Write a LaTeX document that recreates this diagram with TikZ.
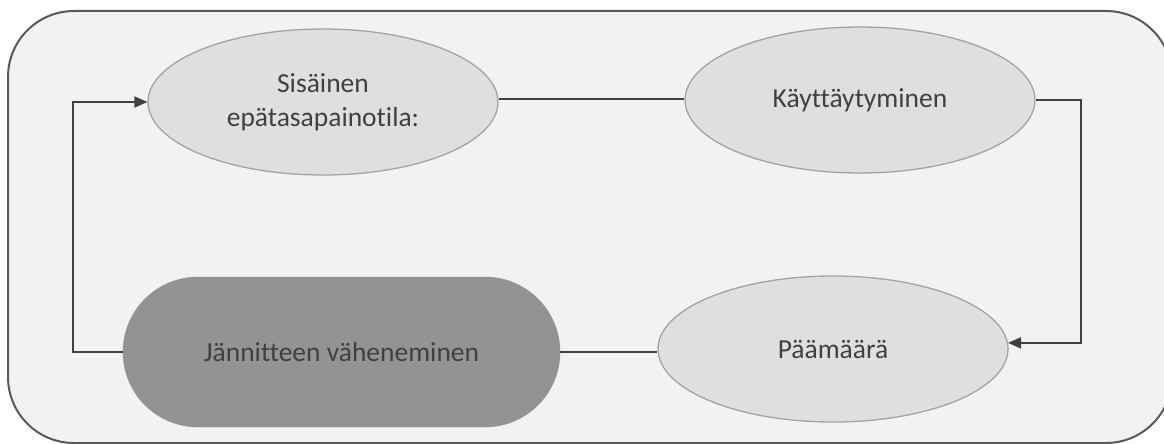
\documentclass[tikz,border=0pt]{standalone}
\usepackage{fontspec}
\setmainfont{Carlito}[Ligatures=NoCommon]
\usetikzlibrary{shapes.geometric,shapes.misc,arrows.meta}
\definecolor{bgfill}{HTML}{F2F2F2}
\definecolor{frame}{HTML}{595959}
\definecolor{ellfill}{HTML}{E0DFE0}
\definecolor{elldraw}{HTML}{A3A3A3}
\definecolor{stadfill}{HTML}{939393}
\definecolor{txt}{HTML}{404040}
\definecolor{conn}{HTML}{404040}
\begin{document}
\begin{tikzpicture}[x=1pt,y=-1pt,
  ell/.style={ellipse,draw=elldraw,line width=1.3pt,fill=ellfill,minimum width=350pt,minimum height=146pt,inner sep=0pt,text=txt,font=\fontsize{27.5}{34}\selectfont,align=center},
  stad/.style={rounded rectangle,fill=stadfill,draw=stadfill,minimum width=437pt,minimum height=150pt,inner sep=0pt,text=txt,font=\fontsize{27.5}{34}\selectfont},
  conn/.style={draw=conn,line width=1.8pt},
  arr/.style={conn,-{Triangle[length=13pt,width=11pt]}}]
\useasboundingbox (0,0) rectangle (1164,444);
\begin{scope}
\clip (0,0) rectangle (1164,444);
\draw[fill=bgfill,draw=frame,line width=2pt,rounded corners=66pt] (8,11) rectangle (1172,443);
\end{scope}
\node[ell] (sis) at (323,102) {Sisäinen\\epätasapainotila:};
\node[ell] (kay) at (860,100) {Käyttäytyminen};
\node[ell] (paa) at (833,349) {Päämäärä};
\node[stad] (jan) at (341.5,352) {Jännitteen väheneminen};
\coordinate (rc) at (1081,100);
\coordinate (lc) at (73,355);
\draw[conn] (sis.east |- 0,99) -- (kay.west |- 0,99);
\draw[arr] (kay.east) -- (rc) |- (paa.2);
\draw[conn] (jan.east) -- (paa.west |- jan.east);
\draw[arr] (jan.west) -- (jan.west -| lc) |- (sis.west);
\end{tikzpicture}
\end{document}
